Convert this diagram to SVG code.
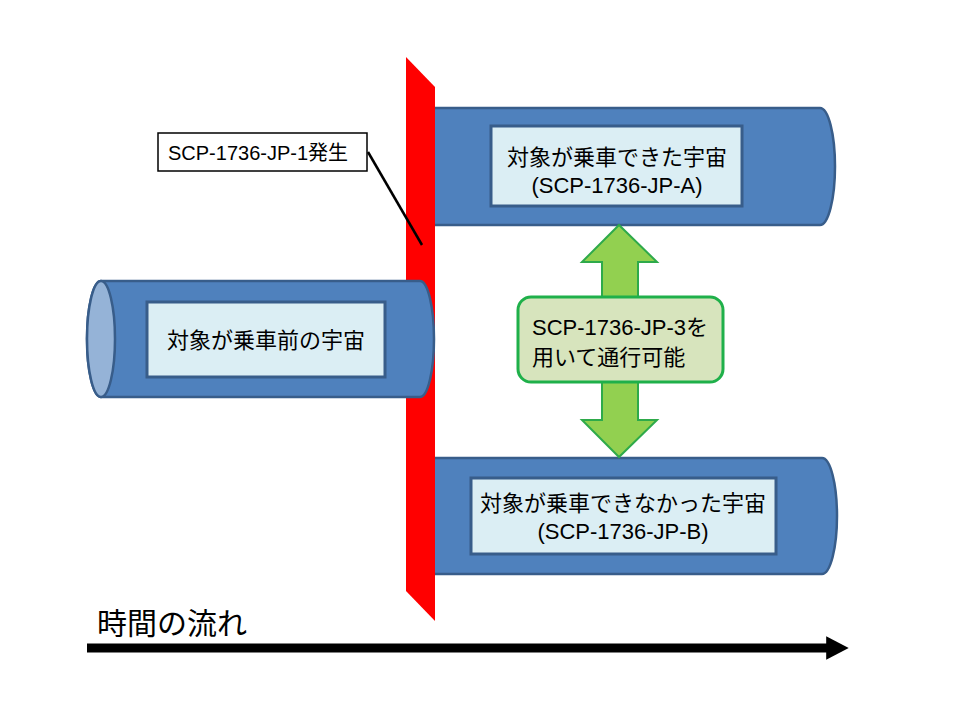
<svg xmlns="http://www.w3.org/2000/svg" width="960" height="720" viewBox="0 0 960 720">
<defs>
<style>
.cyl{fill:#4f81bd;stroke:#385d8a;stroke-width:2.5}
.box{fill:#dbeef4;stroke:#385d8a;stroke-width:3}
.t{font-family:"Liberation Sans","Noto Sans CJK JP",sans-serif;font-size:22px;fill:#000}
.tc{text-anchor:middle}
</style>
<marker id="ah" markerWidth="2.6" markerHeight="2.6" refX="0.2" refY="1.3" orient="auto" markerUnits="strokeWidth">
<path d="M0,0 L2.5,1.3 L0,2.6 Z" fill="#000"/>
</marker>
</defs>
<rect width="960" height="720" fill="#fff"/>

<g id="universe-a">
<path class="cyl" d="M420,108 H820 A15,58.5 0 0 1 820,225 H420 Z"/>
<rect class="box" x="491" y="126" width="251" height="80"/>
<text class="t tc" x="617" y="165">対象が乗車できた宇宙</text>
<text class="t tc" x="617" y="193">(SCP-1736-JP-A)</text>
</g>

<g id="universe-b">
<path class="cyl" d="M420,458 H822 A15,58 0 0 1 822,574 H420 Z"/>
<rect class="box" x="471" y="478" width="305" height="76"/>
<text class="t tc" x="623" y="511">対象が乗車できなかった宇宙</text>
<text class="t tc" x="623" y="539">(SCP-1736-JP-B)</text>
</g>

<g id="event-plane">
<polygon points="406,57 435,87 435,621 406,591" fill="#ff0000"/>
</g>

<g id="universe-before">
<path class="cyl" d="M101,281 H420 A14,58 0 0 1 420,397 H101 A14,58 0 0 1 101,281 Z"/>
<ellipse cx="101" cy="339" rx="14" ry="58" fill="#95b3d7" stroke="#385d8a" stroke-width="2.5"/>
<rect class="box" x="147" y="302" width="238" height="75"/>
<text class="t tc" x="266" y="348">対象が乗車前の宇宙</text>
</g>

<g id="passage">
<polygon points="619,225 657,262 638,262 638,420 657,420 619,457 582,420 602,420 602,262 582,262" fill="#92d050" stroke="#2eaa4a" stroke-width="2"/>
<rect x="518" y="297" width="205" height="85" rx="13" fill="#d7e4bd" stroke="#1fb04a" stroke-width="3"/>
<text class="t" x="532" y="335">SCP-1736-JP-3を</text>
<text class="t" x="532" y="365">用いて通行可能</text>
</g>

<g id="callout">
<rect x="158" y="133" width="209" height="38" fill="#fff" stroke="#000" stroke-width="1.5"/>
<text class="t" x="168" y="160" style="font-size:20px">SCP-1736-JP-1発生</text>
</g>

<g id="connectors">
<line x1="368" y1="152" x2="422" y2="245" stroke="#000" stroke-width="2.5"/>
<line x1="87" y1="648" x2="828" y2="648" stroke="#000" stroke-width="9" marker-end="url(#ah)"/>
</g>

<g id="time-label">
<text x="97" y="634" style="font-family:'Noto Sans CJK JP',sans-serif;font-size:30px">時間の流れ</text>
</g>
</svg>
